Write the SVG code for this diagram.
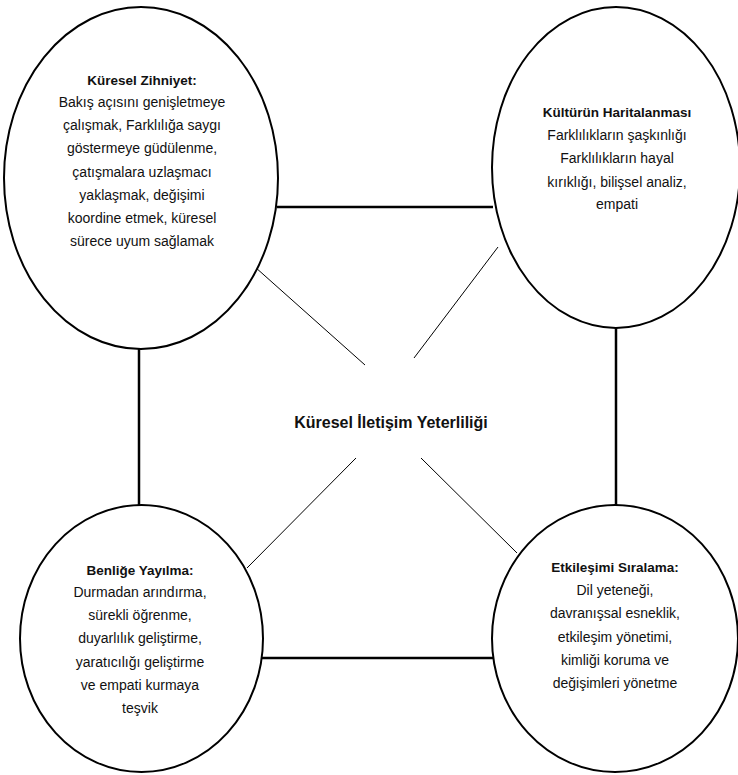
<svg xmlns="http://www.w3.org/2000/svg" width="738" height="775" viewBox="0 0 738 775">
<style>
.node{fill:#fff;stroke:#000;stroke-width:2}
.thick{stroke:#000;stroke-width:2.5;fill:none}
.thin{stroke:#000;stroke-width:1;fill:none}
text{font-family:"Liberation Sans",Arial,sans-serif;fill:#111;text-anchor:middle}
.body{font-size:14px}
.title{font-size:13.5px;font-weight:bold}
.center{font-size:16px;font-weight:bold}
</style>
<rect width="738" height="775" fill="#fff"/>
<g id="connectors">
<line class="thick" x1="277" y1="207" x2="493" y2="207"/>
<line class="thick" x1="139" y1="349" x2="139" y2="505"/>
<line class="thick" x1="616" y1="328" x2="616" y2="505"/>
<line class="thick" x1="262" y1="658" x2="493" y2="658"/>
<line class="thin" x1="255" y1="267" x2="365" y2="365"/>
<line class="thin" x1="498" y1="247" x2="414" y2="358"/>
<line class="thin" x1="356" y1="458" x2="247" y2="568"/>
<line class="thin" x1="421" y1="458" x2="517" y2="553"/>
</g>
<g id="kuresel-zihniyet">
<ellipse class="node" cx="141" cy="178" rx="137" ry="171"/>
<text class="title" x="142" y="85">Küresel Zihniyet:</text>
<text class="body" x="142" y="107">Bakış açısını genişletmeye</text>
<text class="body" x="142" y="130">çalışmak, Farklılığa saygı</text>
<text class="body" x="142" y="153">göstermeye güdülenme,</text>
<text class="body" x="142" y="177">çatışmalara uzlaşmacı</text>
<text class="body" x="142" y="200">yaklaşmak, değişimi</text>
<text class="body" x="142" y="223">koordine etmek, küresel</text>
<text class="body" x="142" y="246">sürece uyum sağlamak</text>
</g>
<g id="kulturun-haritalanmasi">
<ellipse class="node" cx="616" cy="167.5" rx="124" ry="160.5"/>
<text class="title" x="617" y="117">Kültürün Haritalanması</text>
<text class="body" x="617" y="140">Farklılıkların şaşkınlığı</text>
<text class="body" x="617" y="163">Farklılıkların hayal</text>
<text class="body" x="617" y="187">kırıklığı, bilişsel analiz,</text>
<text class="body" x="617" y="209">empati</text>
</g>
<g id="benlige-yayilma">
<ellipse class="node" cx="141.5" cy="638.5" rx="121.5" ry="133.5"/>
<text class="title" x="140" y="575">Benliğe Yayılma:</text>
<text class="body" x="140" y="597">Durmadan arındırma,</text>
<text class="body" x="140" y="620">sürekli öğrenme,</text>
<text class="body" x="140" y="643">duyarlılık geliştirme,</text>
<text class="body" x="140" y="667">yaratıcılığı geliştirme</text>
<text class="body" x="140" y="690">ve empati kurmaya</text>
<text class="body" x="140" y="713">teşvik</text>
</g>
<g id="etkilesimi-siralama">
<ellipse class="node" cx="615" cy="638.5" rx="123" ry="133.5"/>
<text class="title" x="615" y="572">Etkileşimi Sıralama:</text>
<text class="body" x="615" y="595">Dil yeteneği,</text>
<text class="body" x="615" y="618">davranışsal esneklik,</text>
<text class="body" x="615" y="642">etkileşim yönetimi,</text>
<text class="body" x="615" y="665">kimliği koruma ve</text>
<text class="body" x="615" y="688">değişimleri yönetme</text>
</g>
<g id="kuresel-iletisim-yeterliligi">
<text class="center" x="391" y="428">Küresel İletişim Yeterliliği</text>
</g>
</svg>
